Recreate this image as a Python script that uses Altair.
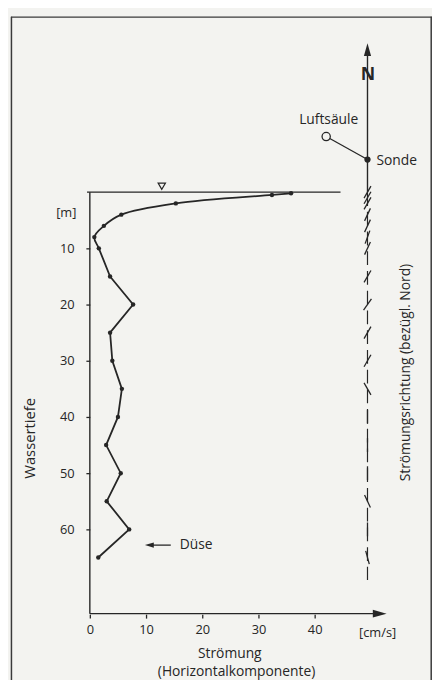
import altair as alt
import pandas as pd

# ---- data ----
depth = [0.2, 0.5, 2, 4, 6, 8, 10, 15, 20, 25, 30, 35, 40, 45, 50, 55, 60, 65]          # m
speed = [35.8, 32.4, 15.3, 5.6, 2.5, 0.8, 1.6, 3.6, 7.7, 3.6, 4.0, 5.7, 5.0, 2.9, 5.5, 3.0, 7.0, 1.5]  # cm/s
dir_depth = [0, 1, 2, 4, 6, 8, 10, 15, 20, 25, 30, 35, 40, 45, 50, 55, 60, 65]
dir_angle = [30, 30, 30, 25, 25, 20, 25, 30, 35, 30, 30, 330, 0, 0, 0, 335, 0, 345]   # deg from north
x_ticks = [0, 10, 20, 30, 40]
y_ticks = [10, 20, 30, 40, 50, 60]

INK = "#262626"
FONT = "Open Sans"
W, H = 427, 668
XS = alt.Scale(domain=[-14.035, 60.877], zero=False, nice=False)
YS = alt.Scale(domain=[-31.228, 85.965], zero=False, nice=False, reverse=True)
XAX = alt.Axis(values=x_ticks, domain=False, grid=False, offset=-62, tickSize=4, tickColor=INK,
               tickWidth=1.3, labelFont=FONT, labelFontSize=13, labelColor=INK, labelPadding=6,
               title=None)
YAX = alt.Axis(values=y_ticks, domain=False, grid=False, offset=-80, tickSize=4, tickColor=INK,
               tickWidth=1.3, labelFont=FONT, labelFontSize=13, labelColor=INK, labelPadding=12,
               title=None)


def ex(f="x"):
    return alt.X(f"{f}:Q", scale=XS, axis=XAX)


def ey(f="y"):
    return alt.Y(f"{f}:Q", scale=YS, axis=YAX)


prof = pd.DataFrame({"x": speed, "y": depth, "o": list(range(len(speed)))})
upper = prof[prof.y <= 15]
lower = prof[prof.y >= 15]

curve_top = alt.Chart(upper).mark_line(color=INK, strokeWidth=1.8, interpolate="catmull-rom").encode(
    x=ex(), y=ey(), order="o:Q")
curve_bot = alt.Chart(lower).mark_line(color=INK, strokeWidth=1.8).encode(
    x=ex(), y=ey(), order="o:Q")
dots = alt.Chart(prof).mark_circle(color=INK, size=20, opacity=1).encode(x=ex(), y=ey())

# axis lines
yline = alt.Chart(pd.DataFrame({"x": [0], "y": [0], "y2": [75]})).mark_rule(color=INK, strokeWidth=1.4).encode(
    x=ex(), y=ey(), y2="y2:Q")
xline = alt.Chart(pd.DataFrame({"x": [0], "x2": [52], "y": [75]})).mark_rule(color=INK, strokeWidth=1.4).encode(
    x=ex(), x2="x2:Q", y=ey())
xarrow = alt.Chart(pd.DataFrame({"x": [52.8], "y": [75]})).mark_point(
    shape="M0,0L-1,-0.28L-1,0.28Z", filled=True, size=784, color=INK, opacity=1, strokeWidth=0).encode(x=ex(), y=ey())
# water surface
surface = alt.Chart(pd.DataFrame({"x": [-0.5], "x2": [44.6], "y": [0]})).mark_rule(color=INK, strokeWidth=1.3).encode(
    x=ex(), x2="x2:Q", y=ey())
tri = alt.Chart(pd.DataFrame({"x": [12.8], "y": [-1.05]})).mark_point(
    shape="triangle-down", filled=False, size=55, color=INK, strokeWidth=1.2, opacity=1).encode(x=ex(), y=ey())

# Düse arrow
duse_line = alt.Chart(pd.DataFrame({"x": [10.5], "x2": [14.4], "y": [62.8]})).mark_rule(color=INK, strokeWidth=1.3).encode(
    x=ex(), x2="x2:Q", y=ey())
duse_head = alt.Chart(pd.DataFrame({"x": [9.8], "y": [62.8]})).mark_point(
    shape="M0,0L1,-0.3L1,0.3Z", filled=True, size=324, color=INK, opacity=1, strokeWidth=0).encode(x=ex(), y=ey())

# compass
COL = 49.4
north = alt.Chart(pd.DataFrame({"x": [COL], "y": [-25], "y2": [0]})).mark_rule(color=INK, strokeWidth=1.4).encode(
    x=ex(), y=ey(), y2="y2:Q")
nhead = alt.Chart(pd.DataFrame({"x": [COL], "y": [-26.5]})).mark_point(
    shape="M0,0L-0.28,1L0.28,1Z", filled=True, size=676, color=INK, opacity=1, strokeWidth=0).encode(x=ex(), y=ey())
link = alt.Chart(pd.DataFrame({"x": [42.05], "x2": [COL], "y": [-9.9], "y2": [-5.8]})).mark_rule(
    color=INK, strokeWidth=1.3).encode(x=ex(), x2="x2:Q", y=ey(), y2="y2:Q")
luft = alt.Chart(pd.DataFrame({"x": [42.05], "y": [-9.9]})).mark_point(
    shape="circle", filled=True, fill="#f3f3f0", size=70, color=INK, stroke=INK, strokeWidth=1.3, opacity=1).encode(x=ex(), y=ey())
sonde = alt.Chart(pd.DataFrame({"x": [COL], "y": [-5.8]})).mark_circle(color=INK, size=40, opacity=1).encode(x=ex(), y=ey())

# direction column
dcol = alt.Chart(pd.DataFrame({"x": [COL], "y": [0], "y2": [69]})).mark_rule(
    color=INK, strokeWidth=1.2, strokeDash=[14, 6]).encode(x=ex(), y=ey(), y2="y2:Q")
dirs = pd.DataFrame({"x": [COL] * len(dir_depth), "y": dir_depth, "a": dir_angle})
dticks = alt.Chart(dirs).mark_point(shape="M0,-1L0,1", filled=False, size=196, color=INK,
                                    strokeWidth=1.3, opacity=1).encode(
    x=ex(), y=ey(), angle=alt.Angle("a:Q", scale=None))


def label(txt, x, y, size=14, angle=0, align="center", weight="normal"):
    return alt.Chart(pd.DataFrame({"x": [x], "y": [y], "t": [txt]})).mark_text(
        font=FONT, fontSize=size, color=INK, angle=angle, align=align, baseline="middle",
        fontWeight=weight).encode(x=ex(), y=ey(), text="t:N")


texts = [
    label("[m]", -4.2, 3.7, 13),
    label("Wassertiefe", -10.7, 43.8, 15, angle=270),
    label("[cm/s]", 51.2, 78.5, 13),
    label("Strömung", 24.9, 82.1, 14),
    label("(Horizontalkomponente)", 26.1, 85.3, 14),
    label("Strömungsrichtung (bezügl. Nord)", 56.3, 32.1, 14, angle=270),
    label("Luftsäule", 42.5, -12.8, 14),
    label("Sonde", 51.0, -5.6, 14, align="left"),
    label("N", 49.5, -20.9, 18, weight="bold"),
    label("Düse", 16.0, 62.8, 14, align="left"),
]

frame_l = alt.Chart(pd.DataFrame({"x": [0]})).mark_rule(color="#3a3a3a", strokeWidth=1.5).encode(
    x=alt.value(0.5), y=alt.value(0), y2=alt.value(H + 10))
frame_t = alt.Chart(pd.DataFrame({"x": [0]})).mark_rule(color="#3a3a3a", strokeWidth=1.5).encode(
    x=alt.value(0), x2=alt.value(W), y=alt.value(0.5))
frame_r = alt.Chart(pd.DataFrame({"x": [0]})).mark_rule(color="#3a3a3a", strokeWidth=1.5).encode(
    x=alt.value(W - 0.8), y=alt.value(0), y2=alt.value(H + 10))

chart = alt.layer(
    curve_top, curve_bot, dots, yline, xline, xarrow, surface, tri, duse_line, duse_head,
    north, nhead, link, luft, sonde, dcol, dticks, *texts, frame_l, frame_t, frame_r
).properties(
    width=W, height=H,
    autosize=alt.AutoSizeParams(type="none"),
    padding={"left": 3, "top": 4, "right": 0, "bottom": 0},
    background="#f3f3f0",
).configure_view(stroke=None)

chart.save("out.html", embed_options={"renderer": "svg", "actions": False})
